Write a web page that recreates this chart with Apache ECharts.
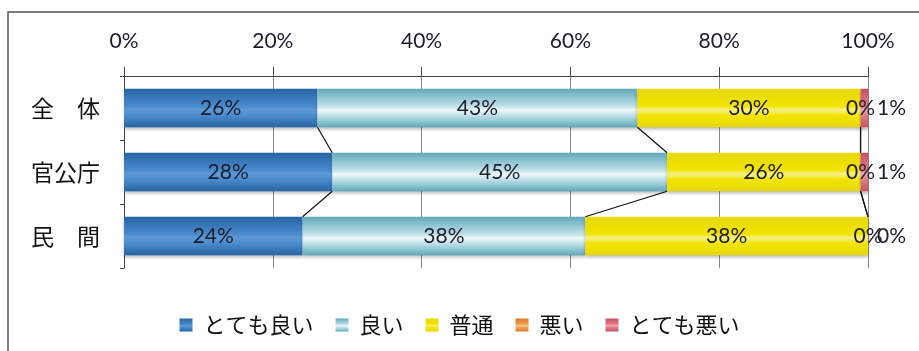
<!DOCTYPE html>
<html>
<head>
<meta charset="utf-8">
<script src="https://cdn.jsdelivr.net/npm/echarts@6/dist/echarts.min.js"></script>
<style>
  html, body { margin: 0; padding: 0; background: #ffffff; }
  #chart { width: 919px; height: 351px; }
</style>
</head>
<body>
<div id="chart"></div>
<script>
// Categories (top to bottom) and the five rating shares, in percent
const categories = ['全　体', '官公庁', '民　間'];
const seriesNames = ['とても良い', '良い', '普通', '悪い', 'とても悪い'];
const veryGood = [26, 28, 24];
const good = [43, 45, 38];
const average = [30, 26, 38];
const bad = [0, 0, 0];
const veryBad = [1, 1, 0];
const axisMin = 0;
const axisMax = 100;
const axisStep = 20;

const allValues = [veryGood, good, average, bad, veryBad];

const NUM_FONT = 'Lato, "Noto Sans CJK JP", sans-serif';
const JP_FONT = '"Noto Sans CJK JP", sans-serif';

// Vertical shaded fill for each bar (edge -> highlight -> edge)
function shade(edge, mid, hi) {
  return new echarts.graphic.LinearGradient(0, 0, 0, 1, [
    { offset: 0, color: edge },
    { offset: 0.45, color: mid },
    { offset: 0.55, color: hi },
    { offset: 0.7, color: mid },
    { offset: 1, color: edge }
  ]);
}
const fills = [
  shade('#2763a6', '#4a8bcc', '#5d9ad6'),
  shade('#5fa9bb', '#bfe0e8', '#eef8fa'),
  shade('#e6d800', '#f1e400', '#f6f08a'),
  shade('#d9782a', '#f0a050', '#f6c890'),
  shade('#c85060', '#e07c86', '#f0a8b0')
];

const BAR_RATIO = 0.6;

// Connector segments between neighbouring bars at each cumulative boundary
const connectors = [];
for (let k = 0; k < 4; k++) {
  for (let i = 0; i < categories.length - 1; i++) {
    let a = 0, b = 0;
    for (let s = 0; s <= k; s++) { a += allValues[s][i]; b += allValues[s][i + 1]; }
    connectors.push([a, i, b, i + 1]);
  }
}

const barSeries = seriesNames.map((name, idx) => {
  const label = {
    show: true,
    formatter: '{c}%',
    fontFamily: NUM_FONT,
    fontSize: 21,
    color: '#1c1c2c'
  };
  if (idx === 4) {
    label.position = 'right';
    label.distance = 9;
  } else {
    label.position = 'inside';
  }
  return {
    name: name,
    type: 'bar',
    stack: 'total',
    barWidth: (BAR_RATIO * 100) + '%',
    data: allValues[idx],
    itemStyle: {
      color: fills[idx],
      shadowColor: 'rgba(0,0,0,0.25)',
      shadowBlur: 3,
      shadowOffsetY: 3
    },
    label: label,
    labelLayout: { hideOverlap: false },
    emphasis: { disabled: true }
  };
});

const lineSeries = {
  type: 'custom',
  name: 'connectors',
  silent: true,
  data: connectors,
  encode: { x: [0, 2], y: [1, 3] },
  renderItem: function (params, api) {
    const band = api.size([0, 1])[1];
    const half = band * BAR_RATIO / 2;
    const p1 = api.coord([api.value(0), api.value(1)]);
    const p2 = api.coord([api.value(2), api.value(3)]);
    return {
      type: 'line',
      shape: { x1: p1[0], y1: p1[1] + half, x2: p2[0], y2: p2[1] - half },
      style: { stroke: '#111', lineWidth: 1.2 }
    };
  },
  z: 5
};

const chart = echarts.init(document.getElementById('chart'), null, { renderer: 'canvas' });
chart.setOption({
  animation: false,
  backgroundColor: '#ffffff',
  graphic: [{
    type: 'rect',
    shape: { x: 8, y: 12, width: 940, height: 400 },
    style: { fill: 'none', stroke: '#555', lineWidth: 1.5 },
    silent: true,
    z: -1
  }],
  grid: { left: 124, right: 51, top: 76, bottom: 83 },
  legend: {
    data: seriesNames,
    top: 309,
    left: 'center',
    itemWidth: 13,
    itemHeight: 13,
    itemGap: 22,
    icon: 'rect',
    textStyle: { fontFamily: JP_FONT, fontSize: 22, color: '#111', padding: [0, 0, 0, 6] }
  },
  xAxis: {
    type: 'value',
    position: 'top',
    min: axisMin,
    max: axisMax,
    interval: axisStep,
    axisLine: { show: true, lineStyle: { color: '#444', width: 1 } },
    axisTick: { show: true, length: 9, lineStyle: { color: '#444' } },
    axisLabel: { formatter: '{value}%', fontFamily: NUM_FONT, fontSize: 21, color: '#1c1c2c', margin: 24 },
    splitLine: { show: true, lineStyle: { color: '#888', width: 1 } }
  },
  yAxis: {
    type: 'category',
    inverse: true,
    data: categories,
    axisLine: { show: true, lineStyle: { color: '#444', width: 1 } },
    axisTick: { show: true, length: 4, lineStyle: { color: '#444' } },
    axisLabel: { fontFamily: JP_FONT, fontSize: 23, color: '#111', margin: 24 }
  },
  series: barSeries.concat([lineSeries])
});
</script>
</body>
</html>
